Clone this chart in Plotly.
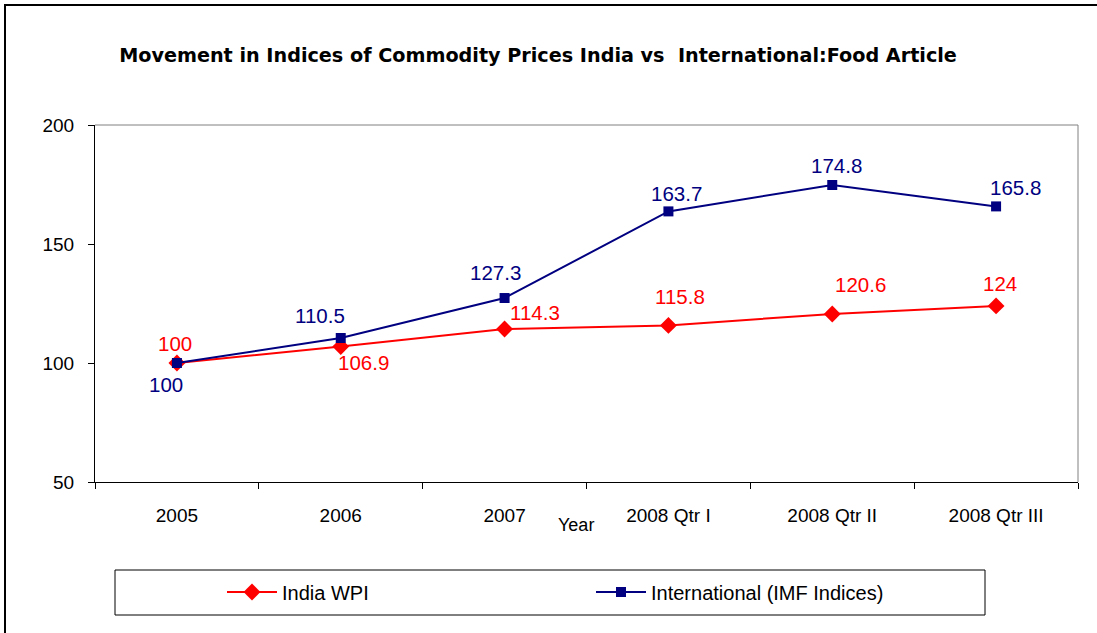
import plotly.graph_objects as go

categories = ["2005", "2006", "2007", "2008 Qtr I", "2008 Qtr II", "2008 Qtr III"]
india_wpi = [100, 106.9, 114.3, 115.8, 120.6, 124]
international_imf = [100, 110.5, 127.3, 163.7, 174.8, 165.8]
y_ticks = [50, 100, 150, 200]

# label offsets in pixels (styling only)
india_offsets = [(-2, -20), (23, 16), (30, -16), (12, -29), (28, -29), (4, -22)]
intl_offsets = [(-11, 21), (-21, -23), (-9, -26), (8, -18), (4, -19), (19, -19)]

RED = "#FF0000"
NAVY = "#000080"
FONT = "Arial, Liberation Sans, sans-serif"

W, H = 1097, 633
L, R, T, B = 95, 1078, 125, 482


def px_x(p):
    return (p - L) / (R - L)


def px_y(p):
    return (B - p) / (B - T)


fig = go.Figure()
fig.add_trace(go.Scatter(
    x=categories, y=india_wpi, name="India WPI", mode="lines+markers",
    line=dict(color=RED, width=2),
    marker=dict(symbol="diamond", size=13, color=RED),
))
fig.add_trace(go.Scatter(
    x=categories, y=international_imf, name="International (IMF Indices)", mode="lines+markers",
    line=dict(color=NAVY, width=2),
    marker=dict(symbol="square", size=10, color=NAVY),
))

annotations = []
for i, (v, (dx, dy)) in enumerate(zip(india_wpi, india_offsets)):
    annotations.append(dict(x=i, y=v, xref="x", yref="y", text=f"{v:g}", showarrow=False,
                            xshift=dx, yshift=-dy, font=dict(family=FONT, size=20.5, color=RED)))
for i, (v, (dx, dy)) in enumerate(zip(international_imf, intl_offsets)):
    annotations.append(dict(x=i, y=v, xref="x", yref="y", text=f"{v:g}", showarrow=False,
                            xshift=dx, yshift=-dy, font=dict(family=FONT, size=20.5, color=NAVY)))
annotations.append(dict(x=px_x(576), y=px_y(525), xref="paper", yref="paper", text="Year",
                        showarrow=False, font=dict(family=FONT, size=18, color="black"),
                        xanchor="center", yanchor="middle"))

shapes = [
    # outer chart border
    dict(type="rect", xref="paper", yref="paper", x0=px_x(5), y0=px_y(660), x1=px_x(1120), y1=px_y(5),
         line=dict(color="black", width=2), layer="below"),
    # plot-area top and right border (gray)
    dict(type="line", xref="paper", yref="paper", x0=0, y0=1, x1=1, y1=1, line=dict(color="#808080", width=1)),
    dict(type="line", xref="paper", yref="paper", x0=1, y0=0, x1=1, y1=1, line=dict(color="#808080", width=1)),
    # legend box
    dict(type="rect", xref="paper", yref="paper", x0=px_x(115), y0=px_y(615), x1=px_x(985), y1=px_y(570),
         line=dict(color="black", width=1)),
]

fig.update_layout(
    width=W, height=H,
    margin=dict(l=L, r=W - R, t=T, b=H - B, pad=0),
    paper_bgcolor="white", plot_bgcolor="white",
    title=dict(text="<b>Movement in Indices of Commodity Prices India vs  International:Food Article</b>",
               x=538 / W, xanchor="center", y=1 - 55 / H, yanchor="middle",
               font=dict(family="DejaVu Sans", size=19.2, color="black")),
    xaxis=dict(type="category", categoryorder="array", categoryarray=categories,
               showline=True, linecolor="black", linewidth=1, showgrid=False, zeroline=False,
               ticks="outside", tickson="boundaries", ticklen=6, tickcolor="black",
               tickfont=dict(family=FONT, size=19, color="black"), ticklabelstandoff=16,
               range=[-0.5, len(categories) - 0.5]),
    yaxis=dict(range=[50, 200], tickvals=y_ticks, showline=True, linecolor="black", linewidth=1,
               showgrid=False, zeroline=False, ticks="outside", ticklen=6, tickcolor="black",
               tickfont=dict(family=FONT, size=19, color="black"), ticklabelstandoff=10),
    showlegend=True,
    legend=dict(orientation="h", x=px_x(222), xanchor="left", y=px_y(592), yanchor="middle",
                font=dict(family=FONT, size=20, color="black"), entrywidth=304, itemwidth=50,
                bgcolor="rgba(0,0,0,0)", borderwidth=0),
    annotations=annotations,
    shapes=shapes,
)

fig.write_html("out.html", config={"displayModeBar": False},
               post_script="document.body.style.margin='0';")
